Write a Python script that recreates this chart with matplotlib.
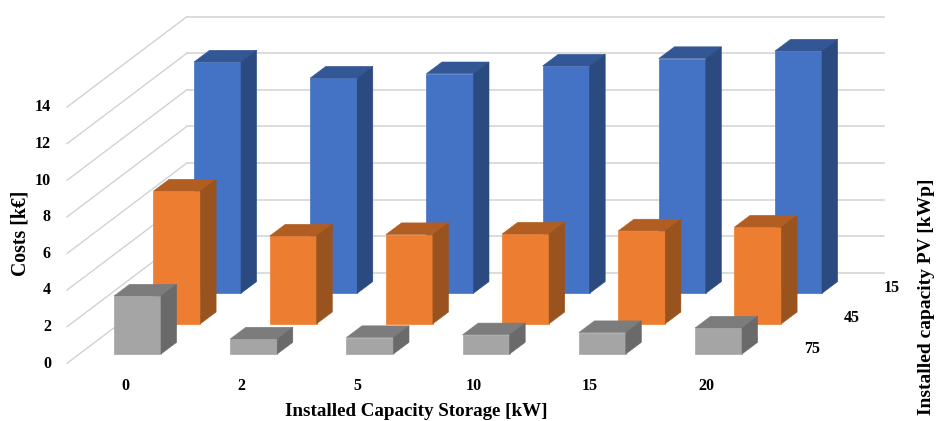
import matplotlib
matplotlib.use('Agg')
import matplotlib.pyplot as plt
from matplotlib.patches import Polygon

plt.rcParams['font.family'] = ['Liberation Serif', 'DejaVu Serif']

# Data (k EUR)
storage = ['0', '2', '5', '10', '15', '20']
pv = ['15', '45', '75']
costs_15 = [12.64, 11.76, 12.0, 12.42, 12.83, 13.24]
costs_45 = [7.25, 4.79, 4.87, 4.9, 5.07, 5.28]
costs_75 = [3.17, 0.82, 0.9, 1.05, 1.17, 1.42]
y_ticks = [0, 2, 4, 6, 8, 10, 12, 14]

# Chart geometry, in pixels of the 937x421 image
px_per_k = 18.3
floor_y = 363.3
wall_dx, wall_dy = 120, 90.6


def to_k(py):
    return (floor_y - py) / px_per_k


fig = plt.figure(figsize=(9.37, 4.21), dpi=100)
ax = fig.add_axes([0, 0, 1, 1])
ax.set_xlim(0, 937)
ax.set_ylim(to_k(421), to_k(0))
ax.axis('off')

grid = '#d2d2d2'
wall = wall_dy / px_per_k
for t in y_ticks:
    ax.plot([67, 67 + wall_dx], [t, t + wall], color=grid, lw=1, zorder=1)
    ax.plot([67 + wall_dx, 884], [t + wall, t + wall], color=grid, lw=1.1, zorder=1)
    ax.text(51, t - 0.02, str(t), ha='right', va='center', fontsize=11.5, fontweight='bold')

# one entry per row, back to front: values, x of first bar, floor height, colours
rows = [
    (costs_15, 194, to_k(293.3), '#4472c4', '#335695', '#2a4a80', 2),
    (costs_45, 153.5, to_k(323.7), '#ed7d31', '#b25e23', '#99531f', 3),
    (costs_75, 114, to_k(354), '#a5a5a5', '#7c7c7c', '#6a6a6a', 4),
]
bar_w = 47
step = 116.2
side_dx = 15.6
side_dy = 11.7 / px_per_k

for values, x0, base, front, top, side, z in rows:
    xs = [x0 + step * i for i in range(len(values))]
    ax.bar(xs, values, width=bar_w, bottom=base, align='edge', color=front,
           edgecolor=front, lw=0.5, zorder=z)
    for x, v in zip(xs, values):
        h = base + v
        r = x + bar_w
        ax.add_patch(Polygon([(x, h), (r, h), (r + side_dx, h + side_dy), (x + side_dx, h + side_dy)],
                             fc=top, ec=top, lw=0.4, zorder=z))
        ax.add_patch(Polygon([(r, base), (r, h), (r + side_dx, h + side_dy), (r + side_dx, base + side_dy)],
                             fc=side, ec=side, lw=0.4, zorder=z))

label_y = to_k(386)
for i, name in enumerate(storage):
    ax.text(125 + step * i, label_y, name, ha='center', va='center', fontsize=11.5, fontweight='bold')

for name, x, py in zip(pv, [892, 852, 812], [288, 318, 349]):
    ax.text(x, to_k(py), name, ha='center', va='center', fontsize=11.5, fontweight='bold')

ax.text(416, to_k(412), 'Installed Capacity Storage [kW]', ha='center', va='center',
        fontsize=13.7, fontweight='bold')
ax.text(21, to_k(233), 'Costs [k€]', rotation=90, ha='center', va='center',
        fontsize=14.2, fontweight='bold')
ax.text(927, to_k(297), 'Installed capacity PV [kWp]', rotation=90, ha='center', va='center',
        fontsize=14, fontweight='bold')

fig.savefig('out.png', dpi=100)
